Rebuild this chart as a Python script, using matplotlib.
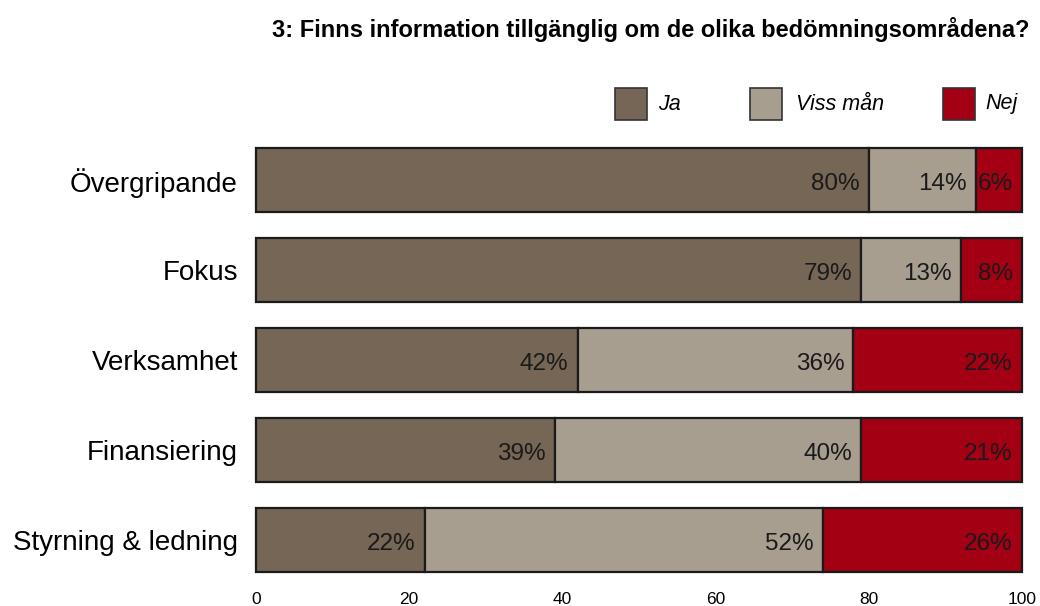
import matplotlib
matplotlib.use("Agg")
import matplotlib.pyplot as plt
from matplotlib.patches import Rectangle
import numpy as np

plt.rcParams['font.family'] = ['Liberation Sans', 'DejaVu Sans']

title = "3: Finns information tillgänglig om de olika bedömningsområdena?"
categories = ["Övergripande", "Fokus", "Verksamhet", "Finansiering", "Styrning & ledning"]
series_names = ["Ja", "Viss mån", "Nej"]
ja = [80, 79, 42, 39, 22]
viss = [14, 13, 36, 40, 52]
nej = [6, 8, 22, 21, 26]
colors = ["#766656", "#a89e90", "#a30014"]
xticks = [0, 20, 40, 60, 80, 100]

W, H = 1040, 606
fig = plt.figure(figsize=(W / 100, H / 100), dpi=100)
ax = fig.add_axes([256 / W, 1 - 585 / H, (1022 - 256) / W, 450 / H])

y = np.arange(len(categories))
left = np.zeros(len(categories))
for vals, col in zip([ja, viss, nej], colors):
    vals = np.array(vals, dtype=float)
    bars = ax.barh(y, vals, left=left, height=0.71, color=col, edgecolor="#1a1a1a", linewidth=1.6)
    for b in bars:
        b.set_clip_on(False)
    for yi, l, v in zip(y, left, vals):
        ax.text(l + v - 1.2, yi + 0.04, f"{int(v)}%", ha="right", va="center",
                fontsize=17.5, color="#1a1a1a")
    left += vals

ax.set_xlim(0, 100)
ax.set_ylim(4.5, -0.5)
ax.set_yticks(y)
ax.set_yticklabels(categories, fontsize=20)
ax.set_xticks(xticks)
ax.set_xticklabels([str(t) for t in xticks], fontsize=12.5)
ax.tick_params(axis="y", length=0, pad=13)
ax.tick_params(axis="x", length=0, pad=5)
for s in ax.spines.values():
    s.set_visible(False)

fig.text(1030 / W, 1 - 30 / H, title, ha="right", va="center", fontsize=17, fontweight="bold")

# legend
leg_x = [615, 750, 943]
txt_x = [658, 796, 985]
for name, col, px, tx in zip(series_names, colors, leg_x, txt_x):
    fig.add_artist(Rectangle((px / W, 1 - 120 / H), 32 / W, 32 / H, transform=fig.transFigure,
                             facecolor=col, edgecolor="#333333", linewidth=1.2))
    fig.text(tx / W, 1 - 104 / H, name, ha="left", va="center", fontsize=15.5, style="italic")

fig.savefig("out.png", dpi=100)
